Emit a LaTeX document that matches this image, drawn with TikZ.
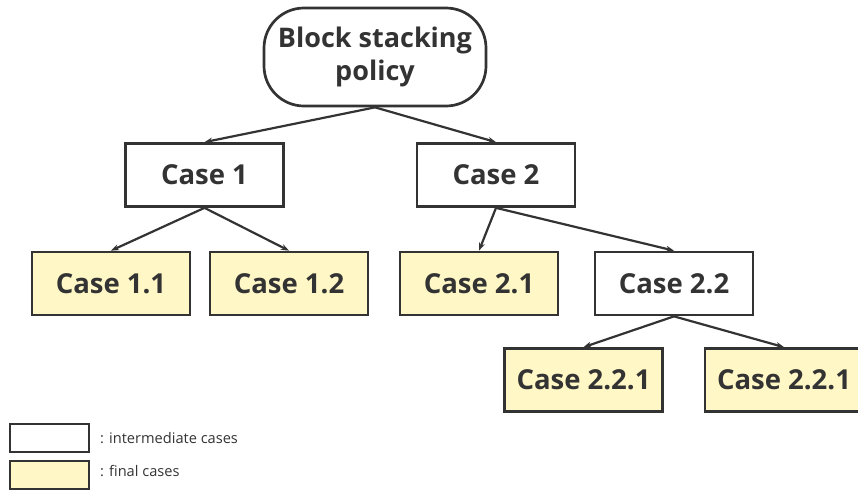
\documentclass[tikz,border=0pt]{standalone}
\usepackage{fontspec}
\setmainfont{Open Sans}
\usetikzlibrary{arrows.meta}
\definecolor{ink}{HTML}{333333}
\definecolor{finalfill}{HTML}{FFF7C6}
\tikzset{
  x=1pt, y=-1pt,
  casebox/.style={draw=ink, line width=2.7pt, minimum width=158pt, minimum height=63pt,
    inner sep=0pt, text=ink, font=\fontsize{27.5}{32}\selectfont\bfseries},
  midcase/.style={casebox, fill=white},
  finalcase/.style={casebox, fill=finalfill},
  link/.style={draw=ink, line width=2.2pt, -{Stealth[length=8pt,width=6pt]}},
  legbox/.style={draw=ink, line width=2.8pt, minimum width=79pt, minimum height=28pt, inner sep=0pt},
  legtext/.style={anchor=west, text=ink, inner sep=0pt, font=\fontsize{14.6}{17}\selectfont},
}
\begin{document}
\begin{tikzpicture}
\useasboundingbox (0,0) rectangle (858,491);

% root of the decision tree
\node[draw=ink, line width=2.7pt, rounded corners=40pt, minimum width=222pt, minimum height=98pt,
  inner sep=0pt, align=center, text=ink, font=\fontsize{27}{33}\selectfont\bfseries]
  (root) at (375,57) {Block stacking\\policy};

% first level
\node[midcase] (c1) at (204.5,175) {Case 1};
\node[midcase] (c2) at (496,175) {Case 2};

% second level
\node[finalcase] (c11) at (111,283.5) {Case 1.1};
\node[finalcase] (c12) at (289,283.5) {Case 1.2};
\node[finalcase] (c21) at (479,283.5) {Case 2.1};
\node[midcase]   (c22) at (674,283.5) {Case 2.2};

% third level
\node[finalcase] (c221) at (583.5,380) {Case 2.2.1};
\node[finalcase] (c222) at (784,380) {Case 2.2.1};

% connectors
\draw[link] (root.south) -- (c1.north);
\draw[link] (root.south) -- (c2.north);
\draw[link] (c1.south) -- (c11.north);
\draw[link] (c1.south) -- (c12.north);
\draw[link] (c2.south) -- (c21.north);
\draw[link] (c2.south) -- (c22.north);
\draw[link] (c22.south) -- (c221.north);
\draw[link] (c22.south) -- (c222.north);

% legend
\node[legbox, fill=white] (legmid) at (49.5,438) {};
\node[legbox, fill=finalfill] (legfin) at (49.5,475) {};
\node[legtext] (legmidtext) at (100,438) {: intermediate cases};
\node[legtext] (legfintext) at (100,471) {: final cases};
\end{tikzpicture}
\end{document}
